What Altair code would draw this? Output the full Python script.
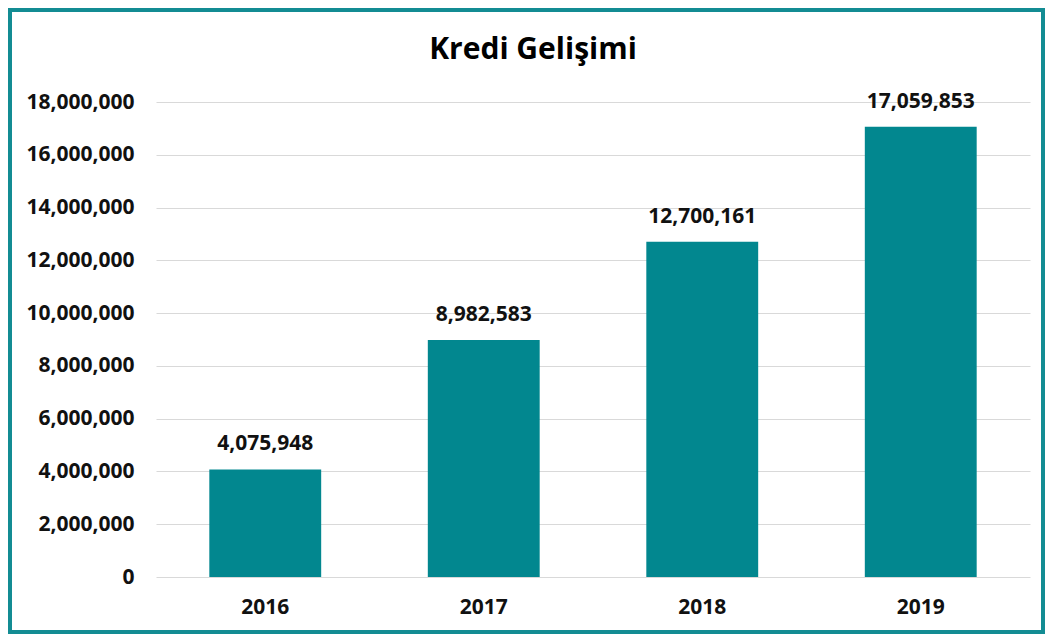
import altair as alt
import pandas as pd

years = ["2016", "2017", "2018", "2019"]
values = [4075948, 8982583, 12700161, 17059853]
y_ticks = [0, 2000000, 4000000, 6000000, 8000000, 10000000, 12000000, 14000000, 16000000, 18000000]
title_text = "Kredi Gelişimi"

df = pd.DataFrame({"year": years, "value": values})
one = pd.DataFrame({"t": [title_text]})

FONT = "Open Sans"
BAR = "#02878F"
BORDER = "#138C93"
W, H = 874, 475

x_enc = alt.X("year:N", title=None, sort=years,
              scale=alt.Scale(paddingInner=0.488, paddingOuter=0.244),
              axis=alt.Axis(labelAngle=0, domain=False, ticks=False, labelPadding=19,
                            labelFont=FONT, labelFontSize=21, labelFontWeight="bold",
                            labelColor="#111111"))
y_enc = alt.Y("value:Q", title=None,
              scale=alt.Scale(domain=[0, 18000000], nice=False),
              axis=alt.Axis(values=y_ticks, format=",d", domain=False, ticks=False,
                            labelPadding=22, gridColor="#D9D9D9", gridWidth=1,
                            labelFont=FONT, labelFontSize=21, labelFontWeight="bold",
                            labelColor="#111111"))

bars = alt.Chart(df).mark_bar(color=BAR).encode(x=x_enc, y=y_enc)

labels = alt.Chart(df).mark_text(
    font=FONT, fontSize=21, fontWeight="bold", color="#111111",
    baseline="alphabetic", dy=-19
).encode(x=alt.X("year:N", sort=years), y="value:Q", text=alt.Text("value:Q", format=",d"))

title = alt.Chart(one).mark_text(
    font=FONT, fontSize=30, fontWeight="bold", color="#000000",
    baseline="alphabetic", align="center"
).encode(x=alt.value(377), y=alt.value(-43), text="t:N")

border = alt.Chart(one).mark_rect(
    fill=None, filled=False, stroke=BORDER, strokeWidth=4, clip=False
).encode(x=alt.value(-146), x2=alt.value(887), y=alt.value(-92), y2=alt.value(530))

chart = alt.layer(border, bars, labels, title).properties(
    width=W, height=H,
    padding={"left": 148, "top": 94, "right": 15, "bottom": 57},
    autosize=alt.AutoSizeParams(type="none"),
).configure_view(stroke=None)

chart.save("out.html", embed_options={"renderer": "svg", "actions": False})
